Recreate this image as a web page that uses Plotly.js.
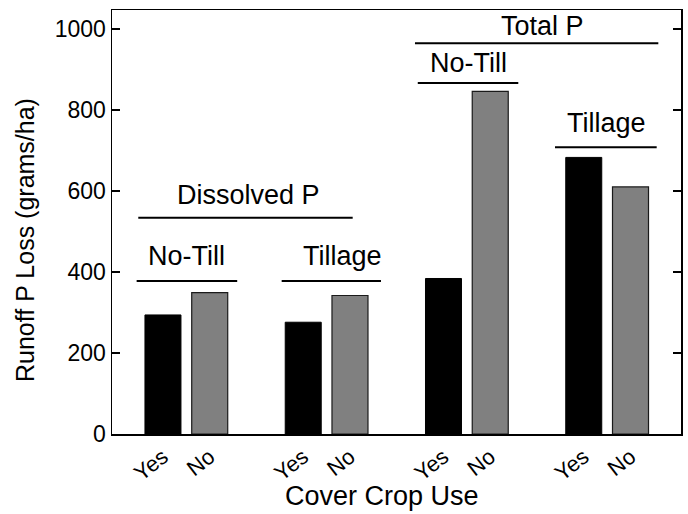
<!DOCTYPE html>
<html>
<head>
<meta charset="utf-8">
<script src="https://cdn.plot.ly/plotly-3.0.1.min.js"></script>
<style>html,body{margin:0;padding:0;background:#fff;}#chart{width:688px;height:514px;}</style>
</head>
<body>
<div id="chart"></div>
<script>
// Data
var groups = ["Dissolved P / No-Till", "Dissolved P / Tillage", "Total P / No-Till", "Total P / Tillage"];
var coverUse = ["Yes", "No"];
var valuesYes = [294, 276, 384, 683];
var valuesNo = [349, 342, 846, 610];

// positions: each group occupies 2 slots plus 1 gap slot
function pos(gi, ci) { return gi * 3 + ci; }
var xYes = groups.map(function(g, i){ return pos(i, 0); });
var xNo = groups.map(function(g, i){ return pos(i, 1); });
var tickvals = [], ticktext = [];
groups.forEach(function(g, i){
  coverUse.forEach(function(c, j){ tickvals.push(pos(i, j)); ticktext.push(c); });
});

var font = "Liberation Sans, Arial, sans-serif";
var traces = [
  {type:"bar", x:xYes, y:valuesYes, name:"Yes", width:0.77,
   marker:{color:"#000000", line:{color:"#000000", width:1}}, hoverinfo:"y"},
  {type:"bar", x:xNo, y:valuesNo, name:"No", width:0.77,
   marker:{color:"#808080", line:{color:"#1a1a1a", width:1.2}}, hoverinfo:"y"}
];

function hline(x0, x1, y) {
  return {type:"line", xref:"x", yref:"y", x0:x0, x1:x1, y0:y, y1:y, line:{color:"#000", width:2}};
}
function label(text, x, y) {
  return {text:text, x:x, y:y, xref:"x", yref:"y", showarrow:false, xanchor:"center", yanchor:"middle",
          font:{family:font, size:27, color:"#000"}};
}

var layout = {
  width:688, height:514,
  margin:{l:112, r:7, t:10, b:80},
  paper_bgcolor:"#fff", plot_bgcolor:"#fff",
  showlegend:false,
  bargap:0,
  xaxis:{range:[-1.09, 11.08], tickvals:tickvals, ticktext:ticktext, tickangle:-38,
         showgrid:false, zeroline:false, showline:true, mirror:true, linecolor:"#000", linewidth:1.5,
         ticks:"", tickfont:{family:font, size:22, color:"#000"}, fixedrange:true},
  yaxis:{range:[0, 1047], tickvals:[0,200,400,600,800,1000], showgrid:false, zeroline:false,
         showline:true, mirror:"ticks", linecolor:"#000", linewidth:1.5, ticks:"inside", ticklen:8,
         tickcolor:"#000", tickwidth:1.2, tickfont:{family:font, size:23, color:"#000"}},
  shapes:[
    hline(-0.528, 4.058, 534),
    hline(-0.563, 1.588, 378),
    hline(2.539, 4.663, 378),
    hline(5.39, 10.595, 965),
    hline(5.45, 7.6, 867),
    hline(8.385, 10.56, 708)
  ],
  annotations:[
    label("Dissolved P", 1.84, 589),
    label("No-Till", 0.507, 440),
    label("Tillage", 3.85, 440),
    label("Total P", 8.12, 1007),
    label("No-Till", 6.545, 917),
    label("Tillage", 9.49, 768),
    {text:"Cover Crop Use", xref:"paper", yref:"paper", x:(381.5-112)/569, y:-(496-434)/424,
     showarrow:false, xanchor:"center", yanchor:"middle", font:{family:font, size:27, color:"#000"}},
    {text:"Runoff P Loss (grams/ha)", xref:"paper", yref:"paper", x:(25-112)/569, y:(434-240)/424,
     textangle:-90, showarrow:false, xanchor:"center", yanchor:"middle", font:{family:font, size:25, color:"#000"}}
  ]
};
Plotly.newPlot("chart", traces, layout, {displayModeBar:false, staticPlot:true});
</script>
</body>
</html>
